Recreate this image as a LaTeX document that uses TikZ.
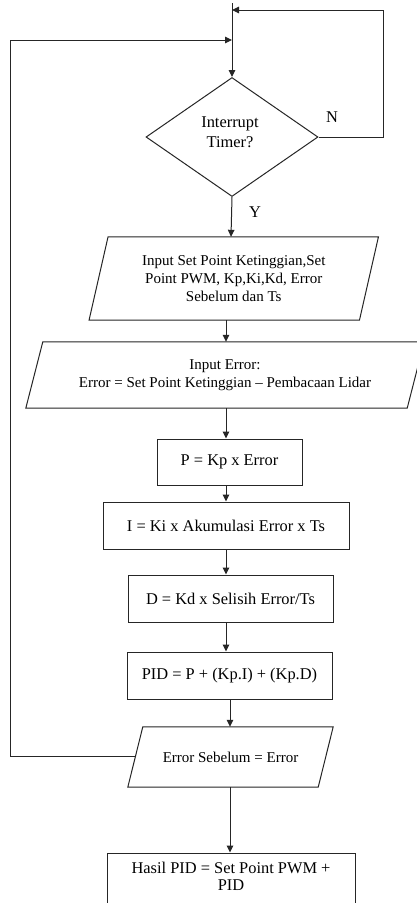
\documentclass[tikz,border=0pt]{standalone}
\usepackage{fontspec}
\setmainfont{Liberation Serif}
\usetikzlibrary{shapes.geometric,arrows.meta}
\begin{document}
\begin{tikzpicture}[x=1pt,y=-1pt,
  every node/.style={font=\fontsize{15}{18}\selectfont, inner sep=0pt, align=center},
  big/.style={font=\fontsize{16.4}{19}\selectfont},
  line/.style={draw=black!85, line width=1pt},
  arr/.style={line, -{Triangle[length=7pt,width=6.5pt]}},
  boxn/.style={draw=black!85, line width=1pt, rectangle, big},
  paran/.style={rectangle}
]
\useasboundingbox (0,0) rectangle (417,903);
\fill[white] (0,0) rectangle (417,903);

% decision
\node[diamond, draw=black!85, line width=1pt, minimum width=172pt, minimum height=119pt] (dec) at (232,137) {};
\node[big, font=\fontsize{16.4}{20}\selectfont] (dectext) at (230,132) {Interrupt\\Timer?};

% parallelogram 1
\node[paran, minimum width=270pt, minimum height=83pt] (in1) at (233.75,278.5) {Input Set Point Ketinggian,Set\\Point PWM, Kp,Ki,Kd, Error\\Sebelum dan Ts};
\draw[line] ([xshift=9.5pt]in1.north west) -- ([xshift=9.5pt]in1.north east) -- ([xshift=-9.5pt]in1.south east) -- ([xshift=-9.5pt]in1.south west) -- cycle;

% parallelogram 2
\node[paran, minimum width=381pt, minimum height=66pt] (in2) at (225,375) {Input Error:\\Error = Set Point Ketinggian -- Pembacaan Lidar};
\draw[line] ([xshift=8.5pt]in2.north west) -- ([xshift=8.5pt]in2.north east) -- ([xshift=-8.5pt]in2.south east) -- ([xshift=-8.5pt]in2.south west) -- cycle;

% process boxes
\node[boxn, minimum width=145pt, minimum height=46pt] (pb) at (229.5,462) {P = Kp x Error};
\node[boxn, minimum width=246pt, minimum height=47pt] (ib) at (226,525.5) {I = Ki x Akumulasi Error x Ts};
\node[boxn, minimum width=205pt, minimum height=47pt] (db) at (230.5,598.5) {D = Kd x Selisih Error/Ts};
\node[boxn, minimum width=205pt, minimum height=47pt] (pidb) at (229.5,675.5) {PID = P + (Kp.I) + (Kp.D)};

% parallelogram 3
\node[paran, minimum width=190pt, minimum height=60pt] (es) at (230.5,757) {Error Sebelum = Error};
\draw[line] ([xshift=7.5pt]es.north west) -- ([xshift=7.5pt]es.north east) -- ([xshift=-7.5pt]es.south east) -- ([xshift=-7.5pt]es.south west) -- cycle;

% result
\node[boxn, minimum width=248pt, minimum height=62pt] (hasilbox) at (231,884) {};
\node[big, font=\fontsize{16.4}{17.5}\selectfont] (hasil) at (231,876.5) {Hasil PID = Set Point PWM +\\PID};

% coordinates
\coordinate (topin) at (232,3);
\coordinate (nr) at (383,137);
\coordinate (ntop) at (383,10);
\coordinate (njoin) at (232,10);
\coordinate (lstart) at (135.75,756);
\coordinate (lbot) at (10,756);
\coordinate (ltop) at (10,40);
\coordinate (ljoin) at (232,40);
\coordinate (c231) at (231,0);
\coordinate (c226) at (226,0);
\coordinate (c230) at (230,0);

% connectors
\draw[arr] (topin) -- (dec.north);
\draw[line] (dec.east) -- (nr) -- (ntop);
\draw[arr] (ntop) -- (njoin);
\draw[line] (lstart) -- (lbot) -- (ltop);
\draw[arr] (ltop) -- (ljoin);
\draw[arr] (dec.south) -- (in1.north -| c231);
\draw[arr] (in1.south -| c226) -- (in2.north -| c226);
\draw[arr] (in2.south -| c226) -- (pb.north -| c226);
\draw[arr] (pb.south -| c226) -- (ib.north -| c226);
\draw[arr] (ib.south -| c226) -- (db.north -| c226);
\draw[arr] (db.south -| c226) -- (pidb.north -| c226);
\draw[arr] (pidb.south -| c230) -- (es.north -| c230);
\draw[arr] (es.south -| c230) -- (hasilbox.north -| c230);

% labels
\node[big] (nlab) at (332,117) {N};
\node[big] (ylab) at (255,212) {Y};
\end{tikzpicture}
\end{document}
